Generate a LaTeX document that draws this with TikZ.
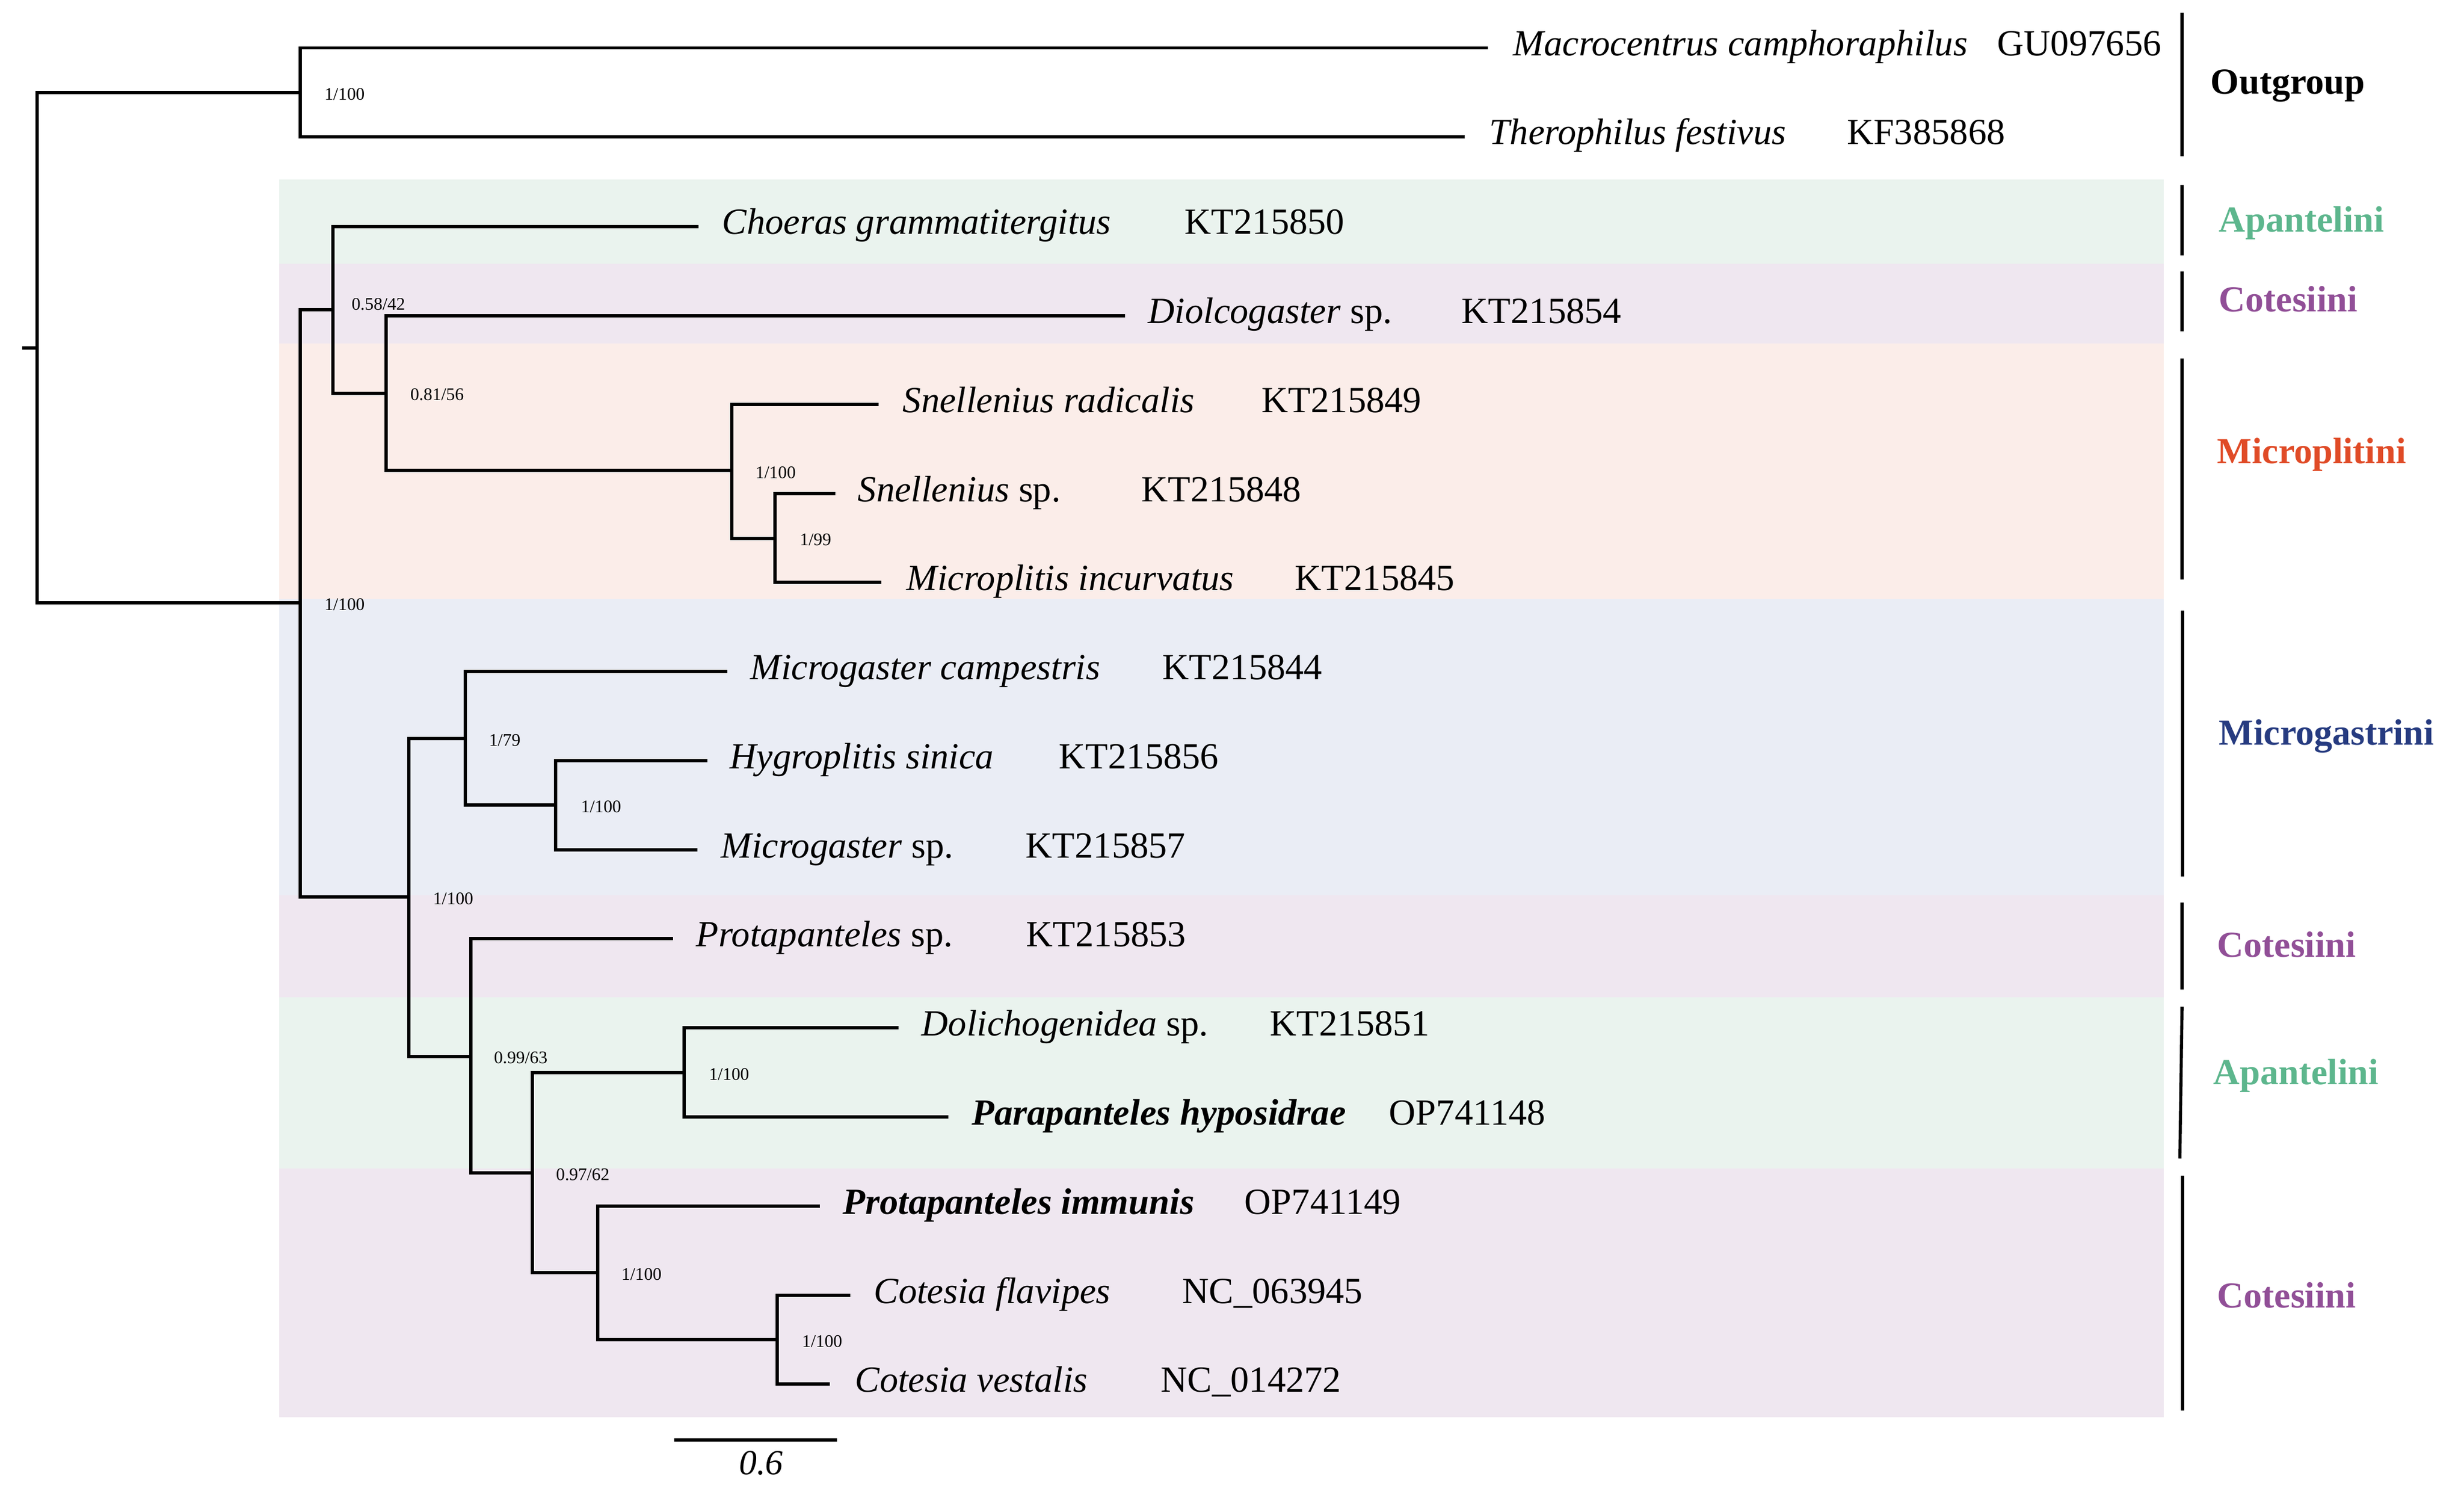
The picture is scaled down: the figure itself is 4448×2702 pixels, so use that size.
\documentclass[tikz,border=0pt]{standalone}
\usepackage{fontspec}
\setmainfont{Liberation Serif}
\definecolor{apbg}{HTML}{EAF3EE}
\definecolor{cobg}{HTML}{EFE7F0}
\definecolor{mpbg}{HTML}{FBEDE9}
\definecolor{mgbg}{HTML}{EAEDF5}
\definecolor{aptx}{HTML}{5DB68D}
\definecolor{cotx}{HTML}{914F97}
\definecolor{mptx}{HTML}{E04B27}
\definecolor{mgtx}{HTML}{263B80}
\begin{document}
\begin{tikzpicture}[x=0.25bp,y=-0.25bp,
  tree/.style={line width=1.4bp,black},
  grpbar/.style={line width=1.4bp,black},
  taxon/.style={anchor=base west,inner sep=0pt,font=\fontsize{16.7}{19}\selectfont},
  acc/.style={anchor=base west,inner sep=0pt,font=\fontsize{16.7}{19}\selectfont},
  support/.style={anchor=base west,inner sep=0pt,font=\fontsize{8}{9.6}\selectfont},
  grp/.style={anchor=base west,inner sep=0pt,font=\fontsize{16.6}{19}\selectfont\bfseries}]
\useasboundingbox (0,0) rectangle (4448,2702);
% background bands
\fill[apbg] (504,324.5) rectangle (3906,476);
\fill[cobg] (504,476) rectangle (3906,620);
\fill[mpbg] (504,620) rectangle (3906,1081);
\fill[mgbg] (504,1081) rectangle (3906,1616);
\fill[cobg] (504,1616) rectangle (3906,1800);
\fill[apbg] (504,1800) rectangle (3906,2109);
\fill[cobg] (504,2109) rectangle (3906,2558);
% internal nodes
\coordinate (R0) at (40,628);
\coordinate (R) at (67,628);
\coordinate (O) at (542,167);
\coordinate (N) at (542,1088);
\coordinate (A) at (601,559);
\coordinate (B) at (697,710);
\coordinate (C) at (1321,849);
\coordinate (D) at (1399,972);
\coordinate (E) at (738,1619);
\coordinate (F) at (840,1333);
\coordinate (G) at (1003,1453);
\coordinate (H) at (850,1907);
\coordinate (I) at (961,2117);
\coordinate (J) at (1235,1936);
\coordinate (K) at (1079,2297);
\coordinate (L) at (1403,2418);
% leaf tips
\coordinate (t1) at (2686,86.5);
\coordinate (t2) at (2644,247);
\coordinate (t3) at (1261,409);
\coordinate (t4) at (2031,570);
\coordinate (t5) at (1586,730);
\coordinate (t6) at (1508,891);
\coordinate (t7) at (1591,1051);
\coordinate (t8) at (1313,1212);
\coordinate (t9) at (1277,1373);
\coordinate (t10) at (1259,1534);
\coordinate (t11) at (1215,1694);
\coordinate (t12) at (1622,1855);
\coordinate (t13) at (1712,2016);
\coordinate (t14) at (1480,2177);
\coordinate (t15) at (1535,2338);
\coordinate (t16) at (1498,2498);
% branches
\draw[tree] (R0) -- (R);
\draw[tree] (R) |- (O);
\draw[tree] (R) |- (N);
\draw[tree] (O) |- (t1);
\draw[tree] (O) |- (t2);
\draw[tree] (N) |- (A);
\draw[tree] (N) |- (E);
\draw[tree] (A) |- (t3);
\draw[tree] (A) |- (B);
\draw[tree] (B) |- (t4);
\draw[tree] (B) |- (C);
\draw[tree] (C) |- (t5);
\draw[tree] (C) |- (D);
\draw[tree] (D) |- (t6);
\draw[tree] (D) |- (t7);
\draw[tree] (E) |- (F);
\draw[tree] (E) |- (H);
\draw[tree] (F) |- (t8);
\draw[tree] (F) |- (G);
\draw[tree] (G) |- (t9);
\draw[tree] (G) |- (t10);
\draw[tree] (H) |- (t11);
\draw[tree] (H) |- (I);
\draw[tree] (I) |- (J);
\draw[tree] (I) |- (K);
\draw[tree] (J) |- (t12);
\draw[tree] (J) |- (t13);
\draw[tree] (K) |- (t14);
\draw[tree] (K) |- (L);
\draw[tree] (L) |- (t15);
\draw[tree] (L) |- (t16);
% support values
\node[support] (sO) at (585,181) {1/100};
\node[support] (sN) at (585,1101) {1/100};
\node[support] (sA) at (634,560) {0.58/42};
\node[support] (sB) at (740,723) {0.81/56};
\node[support] (sC) at (1363,863) {1/100};
\node[support] (sD) at (1443,984) {1/99};
\node[support] (sE) at (781,1632) {1/100};
\node[support] (sF) at (882,1346) {1/79};
\node[support] (sG) at (1048,1466) {1/100};
\node[support] (sH) at (891,1919) {0.99/63};
\node[support] (sI) at (1003,2130) {0.97/62};
\node[support] (sJ) at (1279,1949) {1/100};
\node[support] (sK) at (1121,2310) {1/100};
\node[support] (sL) at (1447,2431) {1/100};
% taxa
\node[taxon] (n1) at (2731,100.5) {\textit{Macrocentrus camphoraphilus}};
\node[acc] (a1) at (3605,100.5) {GU097656};
\node[taxon] (n2) at (2688,261) {\textit{Therophilus festivus}};
\node[acc] (a2) at (3334,261) {KF385868};
\node[taxon] (n3) at (1303,423) {\textit{Choeras grammatitergitus}};
\node[acc] (a3) at (2138,423) {KT215850};
\node[taxon] (n4) at (2072,584) {\textit{Diolcogaster} sp.};
\node[acc] (a4) at (2638,584) {KT215854};
\node[taxon] (n5) at (1629,744) {\textit{Snellenius radicalis}};
\node[acc] (a5) at (2277,744) {KT215849};
\node[taxon] (n6) at (1548,905) {\textit{Snellenius} sp.};
\node[acc] (a6) at (2060,905) {KT215848};
\node[taxon] (n7) at (1636,1065) {\textit{Microplitis incurvatus}};
\node[acc] (a7) at (2337,1065) {KT215845};
\node[taxon] (n8) at (1354,1226) {\textit{Microgaster campestris}};
\node[acc] (a8) at (2098,1226) {KT215844};
\node[taxon] (n9) at (1317,1387) {\textit{Hygroplitis sinica}};
\node[acc] (a9) at (1911,1387) {KT215856};
\node[taxon] (n10) at (1301,1548) {\textit{Microgaster} sp.};
\node[acc] (a10) at (1851,1548) {KT215857};
\node[taxon] (n11) at (1256,1708) {\textit{Protapanteles} sp.};
\node[acc] (a11) at (1852,1708) {KT215853};
\node[taxon] (n12) at (1663,1869) {\textit{Dolichogenidea} sp.};
\node[acc] (a12) at (2292,1869) {KT215851};
\node[taxon] (n13) at (1754,2030) {\textbf{\textit{Parapanteles hyposidrae}}};
\node[acc] (a13) at (2507,2030) {OP741148};
\node[taxon] (n14) at (1521,2191) {\textbf{\textit{Protapanteles immunis}}};
\node[acc] (a14) at (2246,2191) {OP741149};
\node[taxon] (n15) at (1577,2352) {\textit{Cotesia flavipes}};
\node[acc] (a15) at (2134,2352) {NC\_063945};
\node[taxon] (n16) at (1543,2512) {\textit{Cotesia vestalis}};
\node[acc] (a16) at (2095,2512) {NC\_014272};
% group bars
\coordinate (b1a) at (3939,23); \coordinate (b1b) at (3939,282);
\coordinate (b2a) at (3939,334); \coordinate (b2b) at (3939,461);
\coordinate (b3a) at (3939,490); \coordinate (b3b) at (3939,598);
\coordinate (b4a) at (3939,647); \coordinate (b4b) at (3939,1046);
\coordinate (b5a) at (3940,1102); \coordinate (b5b) at (3940,1582);
\coordinate (b6a) at (3939,1629); \coordinate (b6b) at (3939,1786);
\coordinate (b7a) at (3939,1817); \coordinate (b7b) at (3935,2091);
\coordinate (b8a) at (3940,2122); \coordinate (b8b) at (3940,2546);
\draw[grpbar] (b1a) -- (b1b);
\draw[grpbar] (b2a) -- (b2b);
\draw[grpbar] (b3a) -- (b3b);
\draw[grpbar] (b4a) -- (b4b);
\draw[grpbar] (b5a) -- (b5b);
\draw[grpbar] (b6a) -- (b6b);
\draw[grpbar] (b7a) -- (b7b);
\draw[grpbar] (b8a) -- (b8b);
% group labels
\node[grp] (g1) at (3990,170) {Outgroup};
\node[grp,text=aptx] (g2) at (4005,419) {Apantelini};
\node[grp,text=cotx] (g3) at (4005,563) {Cotesiini};
\node[grp,text=mptx] (g4) at (4002,836) {Microplitini};
\node[grp,text=mgtx] (g5) at (4005,1344) {Microgastrini};
\node[grp,text=cotx] (g6) at (4002,1727) {Cotesiini};
\node[grp,text=aptx] (g7) at (3995,1957) {Apantelini};
\node[grp,text=cotx] (g8) at (4002,2360) {Cotesiini};
% scale bar
\coordinate (s1) at (1217,2599);
\coordinate (s2) at (1511,2599);
\draw[tree] (s1) -- (s2);
\node[anchor=base,inner sep=0pt,font=\fontsize{16}{19}\selectfont\itshape] (sl) at (1374,2661) {0.6};
\end{tikzpicture}
\end{document}
